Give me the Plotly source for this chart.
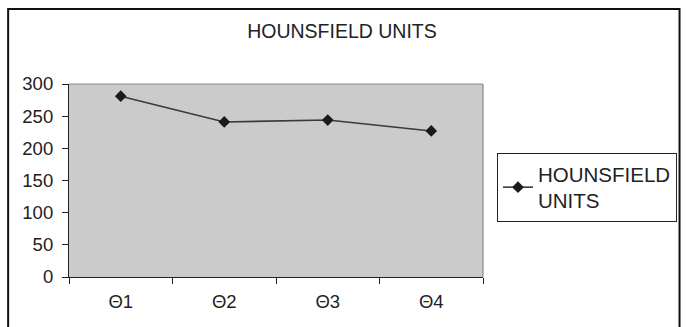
import plotly.graph_objects as go

# Hounsfield unit readings per angle
angles = ["Θ1", "Θ2", "Θ3", "Θ4"]
hounsfield = [281, 241, 244, 227]
y_ticks = [0, 50, 100, 150, 200, 250, 300]
series_name = "HOUNSFIELD UNITS"

W, H = 688, 327
L, R, T, B = 69, 204, 84, 50
pw, ph = W - L - R, H - T - B

def px_x(x):
    return (x - L) / pw

def px_y(y):
    return (H - B - y) / ph

font = "Liberation Sans, Arial, sans-serif"

fig = go.Figure()
fig.add_trace(go.Scatter(
    x=angles, y=hounsfield, mode="lines+markers",
    name="HOUNSFIELD<br>UNITS",
    line=dict(color="#3a3a3a", width=1.6),
    marker=dict(symbol="diamond", size=9, color="#1a1a1a"),
))

fig.update_layout(
    width=W, height=H,
    margin=dict(l=L, r=R, t=T, b=B),
    paper_bgcolor="white",
    plot_bgcolor="#cbcbcb",
    font=dict(family=font, size=18, color="#222222"),
    title=dict(text=series_name, x=342 / W, xanchor="center",
               y=1 - 31 / H, yanchor="middle",
               font=dict(family=font, size=19.5, color="#222222")),
    showlegend=True,
    legend=dict(x=px_x(497), y=px_y(153), xanchor="left", yanchor="top",
                bordercolor="#222222", borderwidth=1, bgcolor="white",
                font=dict(family=font, size=20.5, color="#222222"),
                itemwidth=30, tracegroupgap=0),
    xaxis=dict(type="category", range=[-0.5, 3.5], tickson="boundaries",
               ticks="outside", ticklen=6, tickcolor="#222222",
               showline=True, linecolor="#222222", linewidth=1.2,
               showgrid=False, zeroline=False, mirror=False,
               ticklabelstandoff=8, tickfont=dict(size=18.5)),
    yaxis=dict(range=[0, 300], tickvals=y_ticks, ticks="outside", ticklen=6,
               tickcolor="#222222", showline=True, linecolor="#222222",
               linewidth=1.2, showgrid=False, zeroline=False,
               ticklabelstandoff=5, tickfont=dict(size=18.5)),
)

# gray frame on the top and right of the plotting area
fig.add_shape(type="line", xref="paper", yref="paper", x0=0, x1=1, y0=1, y1=1,
              line=dict(color="#8a8a8a", width=1.2))
fig.add_shape(type="line", xref="paper", yref="paper", x0=1, x1=1, y0=0, y1=1,
              line=dict(color="#8a8a8a", width=1.2))

# outer chart border
fig.add_shape(type="rect", xref="paper", yref="paper",
              x0=px_x(8), x1=px_x(681), y0=px_y(340), y1=px_y(9),
              line=dict(color="#111111", width=2), fillcolor="rgba(0,0,0,0)",
              layer="below")

fig.write_html("out.html")
